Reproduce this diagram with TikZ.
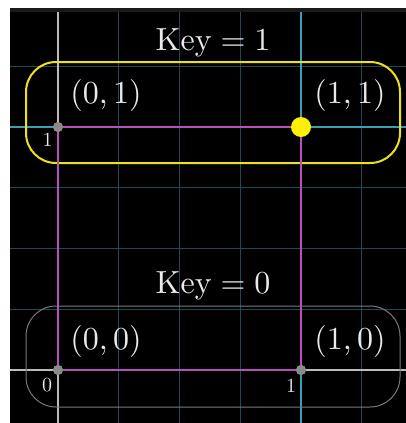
\documentclass[tikz,border=0pt]{standalone}
\definecolor{gridfaint}{HTML}{1E4A55}
\definecolor{gridbright}{HTML}{3A9FB4}
\definecolor{axisgrey}{HTML}{BBBBBB}
\definecolor{sqmag}{HTML}{B94FB9}
\definecolor{keyyellow}{HTML}{EDE21A}
\definecolor{dotyellow}{HTML}{FFF000}
\definecolor{dotgrey}{HTML}{8A8A8A}
\definecolor{boxgrey}{HTML}{7A7A7A}
\definecolor{textwhite}{HTML}{EAEAEA}
\definecolor{strip}{HTML}{1A1A1A}
\newcommand{\thk}{\hspace{0.2778em}}
\newcommand{\thn}{\hspace{0.1667em}}
\font\lblbig="[lmroman10-regular.otf]" at 32pt
\font\lblsmall="[lmroman10-regular.otf]" at 20pt
\begin{document}
\begin{tikzpicture}[x=1pt,y=-1pt,
  faint/.style={gridfaint,line width=0.9pt},
  bright/.style={gridbright,line width=1.3pt},
  axisline/.style={axisgrey,line width=1.5pt},
  sqline/.style={sqmag,line width=2pt},
  greydot/.style={circle,fill=dotgrey,inner sep=0pt,minimum size=10pt},
  yellowdot/.style={circle,fill=dotyellow,inner sep=0pt,minimum size=20pt},
  biglabel/.style={text=textwhite,inner sep=0pt,font=\lblbig},
  ticklabel/.style={text=textwhite,inner sep=0pt,font=\lblsmall},
  keybox/.style={rounded corners=30pt}]
\useasboundingbox (0,0) rectangle (406,423);
\fill[white] (0,0) rectangle (406,423);
\fill[strip] (10,8) rectangle (406,12);
\fill[black] (10,12) rectangle (406,423);
% faint grid
\foreach \gx in {118.75,179.5,240.25,361.75}
  \draw[faint] (\gx,12) -- (\gx,423);
\foreach \gy in {66.25,187.75,248.5,309.25}
  \draw[faint] (10,\gy) -- (406,\gy);
% bright lines x=1 and y=1
\draw[bright] (301,12) -- (301,423);
\draw[bright] (10,127) -- (406,127);
% axes
\draw[axisline] (58,12) -- (58,423);
\draw[axisline] (10,370) -- (406,370);
% rounded key boxes
\draw[keyyellow,line width=2pt,keybox] (26,62) rectangle (400,163);
\draw[boxgrey,line width=1pt,keybox] (26,306) rectangle (400,407);
% corner points
\node[greydot] (p01) at (58,127) {};
\node[greydot] (p00) at (58,370) {};
\node[greydot] (p10) at (301,370) {};
\coordinate (c11) at (301,127);
% magenta square
\draw[sqline] (p01.center) -- (c11) -- (p10.center) -- (p00.center) -- cycle;
\node[yellowdot] (p11) at (c11) {};
\node[greydot] at (p01) {};
\node[greydot] at (p00) {};
\node[greydot] at (p10) {};
% labels
\node[biglabel,anchor=base] (k1) at (213,50) {Key\thk=\thk1};
\node[biglabel,anchor=base] (k0) at (213,293) {Key\thk=\thk0};
\node[biglabel] (l01) at (106,95) {(0,\thn1)};
\node[biglabel] (l11) at (350,95) {(1,\thn1)};
\node[biglabel] (l00) at (106,341) {(0,\thn0)};
\node[biglabel] (l10) at (350,341) {(1,\thn0)};
\node[ticklabel] (t1y) at (47.5,140) {1};
\node[ticklabel] (t0) at (47,385) {0};
\node[ticklabel] (t1x) at (291,386) {1};
\end{tikzpicture}
\end{document}
